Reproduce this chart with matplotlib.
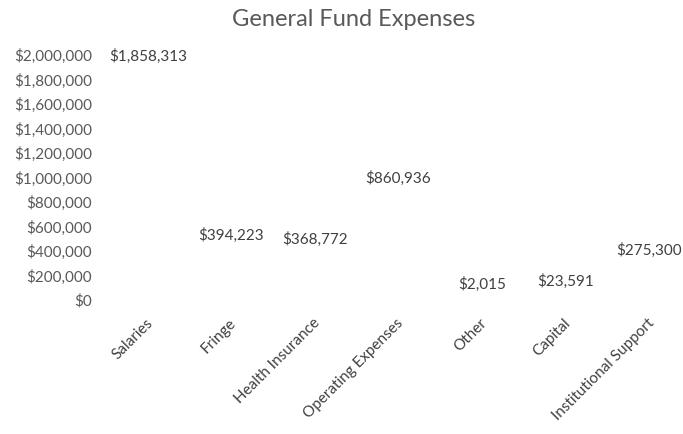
import matplotlib
matplotlib.use("Agg")
import matplotlib.pyplot as plt
import matplotlib.transforms as mtransforms

plt.rcParams['font.family'] = ['Lato', 'DejaVu Sans']

categories = ["Salaries", "Fringe", "Health Insurance", "Operating Expenses",
              "Other", "Capital", "Institutional Support"]
values = [1858313, 394223, 368772, 860936, 2015, 23591, 275300]
yticks = [0, 200000, 400000, 600000, 800000, 1000000, 1200000, 1400000,
          1600000, 1800000, 2000000]

W, H = 683, 435
fig = plt.figure(figsize=(W / 100, H / 100), dpi=100)
ax = fig.add_axes([106 / W, 1 - 300 / H, (683 - 106) / W, (300 - 55) / H])

x = list(range(len(categories)))
bars = ax.bar(x, values, width=0.55, color="white", edgecolor="none")

ax.set_ylim(0, 2000000)
ax.set_xlim(-0.5, 6.41)
ax.set_yticks(yticks)
ax.set_yticklabels([f"${v:,.0f}" for v in yticks], fontsize=11, color="#595959")
ax.tick_params(axis="y", length=0, pad=10)
ax.set_xticks([])
for s in ax.spines.values():
    s.set_visible(False)

for xi, v in zip(x, values):
    ax.annotate(f"${v:,.0f}", (xi, v), xytext=(0, 6), textcoords="offset points",
                ha="center", va="bottom", fontsize=11, color="#404040")

trans = mtransforms.blended_transform_factory(ax.transData, ax.transAxes)
off = mtransforms.ScaledTranslation(-2 / 100, -16 / 100, fig.dpi_scale_trans)
for xi, c in zip(x, categories):
    ax.text(xi, 0, c, transform=trans + off, rotation=45, rotation_mode="anchor",
            ha="right", va="top", fontsize=11, color="#404040")

fig.text(354 / W, 1 - 20 / H, "General Fund Expenses", ha="center", va="center",
         fontsize=17, color="#595959")

fig.savefig("out.png", dpi=100)
